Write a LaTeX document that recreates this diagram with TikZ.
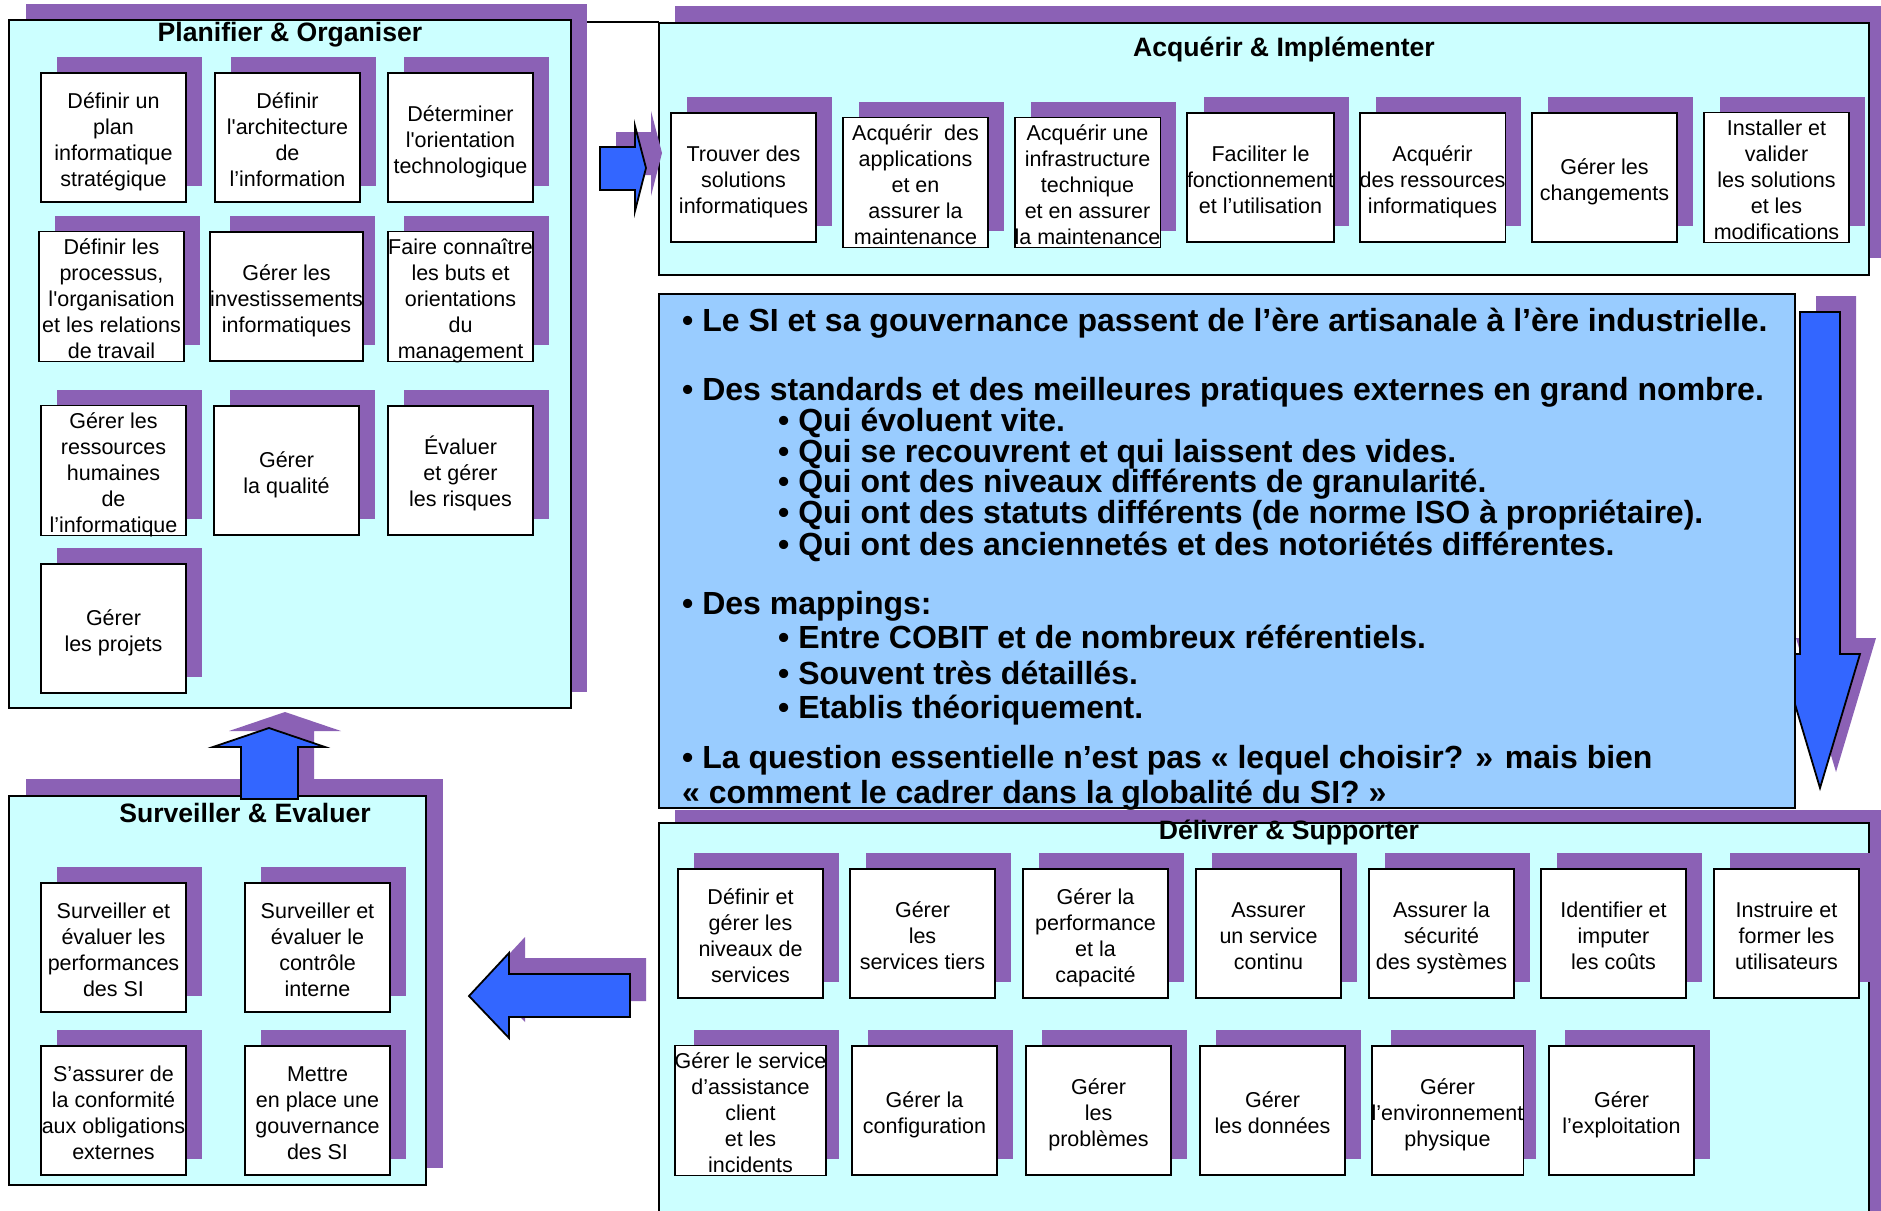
\documentclass[tikz,border=0pt]{standalone}
\usepackage{fontspec}
\setmainfont{Liberation Sans}
\definecolor{shad}{RGB}{139,97,181}
\definecolor{frm}{RGB}{204,255,255}
\definecolor{ctr}{RGB}{153,204,255}
\definecolor{arrblue}{RGB}{51,102,255}
\tikzset{
  actbox/.style={draw=black, line width=1.8pt, fill=white, minimum width=145pt, minimum height=129pt,
    inner sep=0pt, align=center, font=\fontsize{21.5}{26}\selectfont},
  frame/.style={draw=black, line width=2pt, fill=frm},
  ttl/.style={font=\bfseries\fontsize{26.6}{30}\selectfont, inner sep=0pt},
  ctext/.style={anchor=base west, inner sep=0pt, font=\bfseries\fontsize{32}{32}\selectfont},
  blockarrow/.style={draw=black, line width=1.8pt, fill=arrblue, line join=miter},
}
\newcommand{\cobbox}[4]{%
  \fill[shad] (#2+16,#3-16) rectangle ++(145,129);
  \node[actbox] (#1) at (#2+72.5,#3+64.5) {\raisebox{-5pt}[\height][\depth]{\begin{tabular}{@{}c@{}}#4\end{tabular}}};
}
\newcommand{\sq}{\textquotesingle}
\begin{document}
\begin{tikzpicture}[x=1pt, y=-1pt]
\useasboundingbox (0,0) rectangle (1881,1210);
\fill[white] (0,0) rectangle (1881,1210);

% top connecting line
\coordinate (la) at (587,22);
\coordinate (lb) at (659,22);
\draw[line width=2.5pt] (la) -- (lb);

% ===== Planifier & Organiser =====
\fill[shad] (26,4) rectangle (587,692);
\draw[frame] (9,20) rectangle (571,708);
\node[ttl] (tPO) at (290,35) {Planifier \& Organiser};
\cobbox{po1}{41}{73}{Définir un\\plan\\informatique\\stratégique}
\cobbox{po2}{215}{73}{Définir\\l\sq architecture\\de\\l’information}
\cobbox{po3}{388}{73}{Déterminer\\l\sq orientation\\technologique}
\cobbox{po4}{39}{232}{Définir les\\processus,\\l\sq organisation\\et les relations\\de travail}
\cobbox{po5}{214}{232}{Gérer les\\investissements\\informatiques}
\cobbox{po6}{388}{232}{Faire connaître\\les buts et\\orientations\\du\\management}
\cobbox{po7}{41}{406}{Gérer les\\ressources\\humaines\\de\\l’informatique}
\cobbox{po8}{214}{406}{Gérer\\la qualité}
\cobbox{po9}{388}{406}{Évaluer\\et gérer\\les risques}
\cobbox{po10}{41}{564}{Gérer\\les projets}

% ===== Acquérir & Implémenter =====
\fill[shad] (675,6) rectangle (1881,258);
\draw[frame] (659,23) rectangle (1869,275);
\node[ttl] (tAI) at (1284,50) {Acquérir \& Implémenter};
\cobbox{ai1}{671}{113}{Trouver des\\solutions\\informatiques}
\cobbox{ai2}{843}{118}{Acquérir\ \ des\\applications\\et en\\assurer la\\maintenance}
\cobbox{ai3}{1015}{118}{Acquérir une\\infrastructure\\technique\\et en assurer\\la maintenance}
\cobbox{ai4}{1188}{113}{Faciliter le\\fonctionnement\\et l’utilisation}
\cobbox{ai5}{1360}{113}{Acquérir\\des ressources\\informatiques}
\cobbox{ai6}{1532}{113}{Gérer les\\changements}
\cobbox{ai7}{1704}{113}{Installer et\\valider\\les solutions\\et les\\modifications}

% ===== down arrow =====
\fill[shad] (1816,296) -- (1856,296) -- (1856,638) -- (1876,638) -- (1836,772) -- (1796,638) -- (1816,638) -- cycle;
\draw[blockarrow] (1800,312) -- (1840,312) -- (1840,654) -- (1860,654) -- (1820,788) -- (1780,654) -- (1800,654) -- cycle;

% ===== central text box =====
\draw[draw=black, line width=2.5pt, fill=ctr] (659,294) rectangle (1795,808);
\node[ctext] (c1) at (682,331) {• Le SI et sa gouvernance passent de l’ère artisanale à l’ère industrielle.};
\node[ctext] (c2) at (682,400) {• Des standards et des meilleures pratiques externes en grand nombre.};
\node[ctext] (c3) at (778,431) {• Qui évoluent vite.};
\node[ctext] (c4) at (778,462) {• Qui se recouvrent et qui laissent des vides.};
\node[ctext] (c5) at (778,492) {• Qui ont des niveaux différents de granularité.};
\node[ctext] (c6) at (778,523) {• Qui ont des statuts différents (de norme ISO à propriétaire).};
\node[ctext] (c7) at (778,555) {• Qui ont des anciennetés et des notoriétés différentes.};
\node[ctext] (c8) at (682,614) {• Des mappings:};
\node[ctext] (c9) at (778,648) {• Entre COBIT et de nombreux référentiels.};
\node[ctext] (c10) at (778,684) {• Souvent très détaillés.};
\node[ctext] (c11) at (778,718) {• Etablis théoriquement.};
\node[ctext] (c12) at (682,768) {• La question essentielle n’est pas « lequel choisir? » mais bien};
\node[ctext] (c13) at (682,803) {« comment le cadrer dans la globalité du SI? »};

% ===== Délivrer & Supporter =====
\fill[shad] (675,810) rectangle (1881,1216);
\draw[frame] (659,823) rectangle (1869,1216);
\node[ttl] (tDS) at (1289,832) {Délivrer \& Supporter};
\cobbox{ds1}{678}{869}{Définir et\\gérer les\\niveaux de\\services}
\cobbox{ds2}{850}{869}{Gérer\\les\\services tiers}
\cobbox{ds3}{1023}{869}{Gérer la\\performance\\et la\\capacité}
\cobbox{ds4}{1196}{869}{Assurer\\un service\\continu}
\cobbox{ds5}{1369}{869}{Assurer la\\sécurité\\des systèmes}
\cobbox{ds6}{1541}{869}{Identifier et\\imputer\\les coûts}
\cobbox{ds7}{1714}{869}{Instruire et\\former les\\utilisateurs}
\cobbox{ds8}{678}{1046}{Gérer le service\\d’assistance\\client\\et les\\incidents}
\cobbox{ds9}{852}{1046}{Gérer la\\configuration}
\cobbox{ds10}{1026}{1046}{Gérer\\les\\problèmes}
\cobbox{ds11}{1200}{1046}{Gérer\\les données}
\cobbox{ds12}{1375}{1046}{Gérer\\l’environnement\\physique}
\cobbox{ds13}{1549}{1046}{Gérer\\l’exploitation}

% ===== Surveiller & Evaluer =====
\fill[shad] (26,779) rectangle (443,1168);
\draw[frame] (9,796) rectangle (426,1185);
\node[ttl] (tSE) at (245,813) {Surveiller \& Evaluer};
\cobbox{se1}{41}{883}{Surveiller et\\évaluer les\\performances\\des SI}
\cobbox{se2}{245}{883}{Surveiller et\\évaluer le\\contrôle\\interne}
\cobbox{se3}{41}{1046}{S’assurer de\\la conformité\\aux obligations\\externes}
\cobbox{se4}{245}{1046}{Mettre\\en place une\\gouvernance\\des SI}

% ===== up arrow =====
\fill[shad] (257,783) -- (257,731) -- (229,731) -- (285,712) -- (341,731) -- (314,731) -- (314,783) -- cycle;
\draw[blockarrow] (241,799) -- (241,747) -- (213,747) -- (269,728) -- (325,747) -- (298,747) -- (298,799) -- cycle;

% ===== left arrow =====
\fill[shad] (646,958) -- (525,958) -- (525,937) -- (485,980) -- (525,1022) -- (525,1001) -- (646,1001) -- cycle;
\draw[blockarrow] (630,974) -- (509,974) -- (509,953) -- (469,996) -- (509,1038) -- (509,1017) -- (630,1017) -- cycle;

% ===== right arrow =====
\fill[shad] (616,132) -- (651,132) -- (651,111) -- (662,153) -- (651,196) -- (651,175) -- (616,175) -- cycle;
\draw[blockarrow] (600,147) -- (635,147) -- (635,126) -- (646,168) -- (635,211) -- (635,190) -- (600,190) -- cycle;
\end{tikzpicture}
\end{document}
